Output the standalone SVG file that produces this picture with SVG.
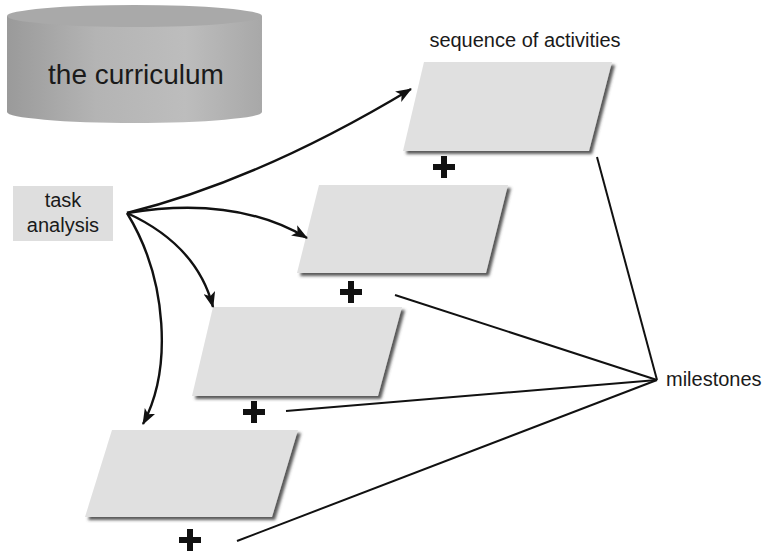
<svg xmlns="http://www.w3.org/2000/svg" width="762" height="555" viewBox="0 0 762 555">
<style>
.lbl{font-family:"Liberation Sans",Arial,sans-serif;fill:#1a1a1a}
.para{fill:#e0e0e0;filter:url(#sh)}
.plus{stroke:#111;stroke-width:6;fill:none}
.arr{fill:none;stroke:#111;stroke-width:2.4;marker-end:url(#ah)}
.ln{fill:none;stroke:#111;stroke-width:2}
</style>
<defs>
<linearGradient id="cyl" x1="0" y1="0" x2="1" y2="0">
<stop offset="0" stop-color="#9a9a9a"/>
<stop offset="0.35" stop-color="#b4b4b4"/>
<stop offset="0.7" stop-color="#bdbdbd"/>
<stop offset="1" stop-color="#a8a8a8"/>
</linearGradient>
<filter id="sh" x="-10%" y="-10%" width="130%" height="130%">
<feDropShadow dx="3" dy="3" stdDeviation="1.5" flood-color="#444" flood-opacity="0.9"/>
</filter>
<marker id="ah" viewBox="0 0 16 12" refX="15" refY="6" markerWidth="16" markerHeight="12" markerUnits="userSpaceOnUse" orient="auto">
<path d="M0,0 L16,6 L0,12 L4,6 z" fill="#111"/>
</marker>
</defs>
<g id="curriculum">
<path d="M7,16 L7,112 A127.5,11 0 0 0 262,112 L262,16 Z" fill="url(#cyl)"/>
<ellipse cx="134.5" cy="16" rx="127.5" ry="11" fill="#a9a9a9"/>
<text class="lbl" x="136" y="84" font-size="28" text-anchor="middle">the curriculum</text>
</g>
<g id="task-analysis">
<rect x="13" y="186" width="100" height="55" fill="#dedede"/>
<text class="lbl" x="63" y="207" font-size="20" text-anchor="middle">task</text>
<text class="lbl" x="63" y="232" font-size="20" text-anchor="middle">analysis</text>
</g>
<g id="activity-1">
<text class="lbl" x="525" y="47" font-size="20" text-anchor="middle">sequence of activities</text>
<polygon class="para" points="424,62 612,62 589,151 403,151"/>
<path class="plus" d="M433,167 H455 M444,156 V178"/>
</g>
<g id="activity-2">
<polygon class="para" points="319,185 508,185 486,273 297,273"/>
<path class="plus" d="M340,292 H362 M351,281 V303"/>
</g>
<g id="activity-3">
<polygon class="para" points="213,307 402,307 378,396 192,396"/>
<path class="plus" d="M243,412 H265 M254,401 V423"/>
</g>
<g id="activity-4">
<polygon class="para" points="112,430 298,430 272,517 85,517"/>
<path class="plus" d="M179,540 H201 M190,529 V551"/>
</g>
<g id="milestones">
<text class="lbl" x="666" y="386" font-size="20">milestones</text>
</g>
<g id="connectors">
<path class="arr" d="M127,213 Q260,180 411,89"/>
<path class="arr" d="M127,213 Q235,195 307,238"/>
<path class="arr" d="M127,213 Q197,245 213,307"/>
<path class="arr" d="M127,213 C168,280 172,370 143,424"/>
<path class="ln" d="M597,157 L657,380"/>
<path class="ln" d="M395,295 L657,380"/>
<path class="ln" d="M286,411 L657,380"/>
<path class="ln" d="M237,541 L657,380"/>
</g>
</svg>
